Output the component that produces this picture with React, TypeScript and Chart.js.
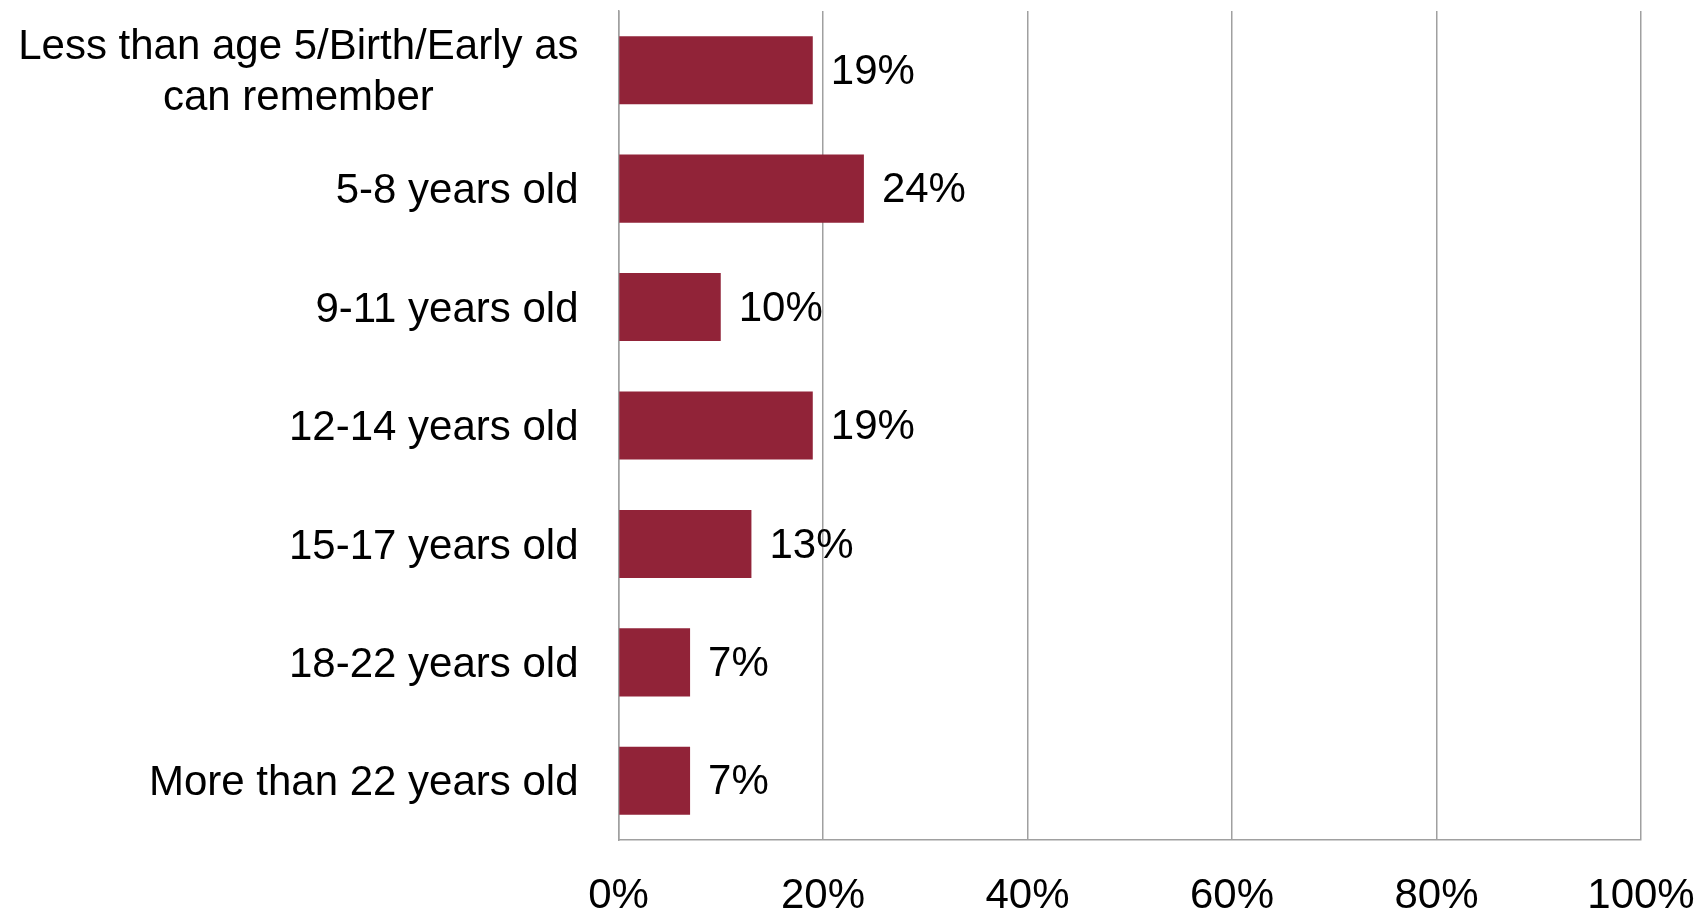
import React, { useEffect, useRef } from "react";
import { Chart, registerables } from "chart.js";

Chart.register(...registerables);

const categories: string[][] = [
  ["Less than age 5/Birth/Early as", "can remember"],
  ["5-8 years old"],
  ["9-11 years old"],
  ["12-14 years old"],
  ["15-17 years old"],
  ["18-22 years old"],
  ["More than 22 years old"],
];
const values: number[] = [19, 24, 10, 19, 13, 7, 7];
const xTicks: number[] = [0, 20, 40, 60, 80, 100];

const FONT_FAMILY = "'Liberation Sans', Arial, sans-serif";
const FONT_SIZE = 42;
const BAR_COLOR = "#912338";
const GRID_COLOR = "#a0a0a0";

const labelsPlugin = {
  id: "customLabels",
  afterDatasetsDraw(chart: any) {
    const ctx = chart.ctx;
    const yScale = chart.scales.y;
    const meta = chart.getDatasetMeta(0);
    ctx.save();
    ctx.font = `${FONT_SIZE}px ${FONT_FAMILY}`;
    ctx.fillStyle = "#000";
    ctx.textBaseline = "middle";
    // category labels (multi-line centered as a block, block right-aligned)
    const rightX = chart.chartArea.left - 40;
    const lineH = 51;
    categories.forEach((lines, i) => {
      const cy = yScale.getPixelForTick(i);
      const widths = lines.map((l) => ctx.measureText(l).width);
      const maxW = Math.max(...widths);
      const cx = rightX - maxW / 2;
      ctx.textAlign = "center";
      const startY = cy - ((lines.length - 1) * lineH) / 2;
      lines.forEach((l, j) => {
        ctx.fillText(l, cx, startY + j * lineH + 3);
      });
    });
    // value labels
    ctx.textAlign = "left";
    meta.data.forEach((bar: any, i: number) => {
      ctx.fillText(values[i] + "%", bar.x + 18, bar.y + 2);
    });
    ctx.restore();
  },
};

export default function App() {
  const canvasRef = useRef<HTMLCanvasElement | null>(null);

  useEffect(() => {
    const canvas = canvasRef.current;
    if (!canvas) return;
    const chart = new Chart(canvas, {
      type: "bar",
      data: {
        labels: categories.map((c) => c.join(" ")),
        datasets: [
          {
            data: values,
            backgroundColor: BAR_COLOR,
            borderWidth: 0,
            barPercentage: 0.575,
            categoryPercentage: 1,
          },
        ],
      },
      options: {
        indexAxis: "y",
        responsive: false,
        animation: false,
        layout: { padding: { top: 11, right: 59, left: 0, bottom: 0 } },
        plugins: {
          legend: { display: false },
          tooltip: { enabled: false },
        },
        scales: {
          x: {
            type: "linear",
            min: 0,
            max: 100,
            afterBuildTicks: (scale: any) => {
              scale.ticks = xTicks.map((v) => ({ value: v }));
            },
            ticks: {
              stepSize: 20,
              padding: 31,
              color: "#000",
              font: { family: FONT_FAMILY, size: FONT_SIZE },
              callback: (v: any) => v + "%",
              maxRotation: 0,
            },
            grid: {
              color: GRID_COLOR,
              lineWidth: 1.5,
              drawTicks: false,
            },
            border: { display: true, color: GRID_COLOR, width: 1.5 },
            afterFit: (scale: any) => {
              scale.height = 68;
              scale.paddingLeft = 0;
              scale.paddingRight = 0;
            },
          },
          y: {
            type: "category",
            ticks: { display: false },
            grid: { display: false, drawTicks: false },
            border: { display: true, color: GRID_COLOR, width: 1.5 },
            afterFit: (scale: any) => {
              scale.width = 618.5;
              scale.paddingTop = 0;
              scale.paddingBottom = 0;
            },
          },
        },
      },
      plugins: [labelsPlugin],
    } as any);
    return () => chart.destroy();
  }, []);

  return (
    <div style={{ position: "absolute", left: 0, top: 0, width: 1700, height: 908, background: "#fff" }}>
      <canvas ref={canvasRef} width={1700} height={908} style={{ display: "block" }} />
    </div>
  );
}
